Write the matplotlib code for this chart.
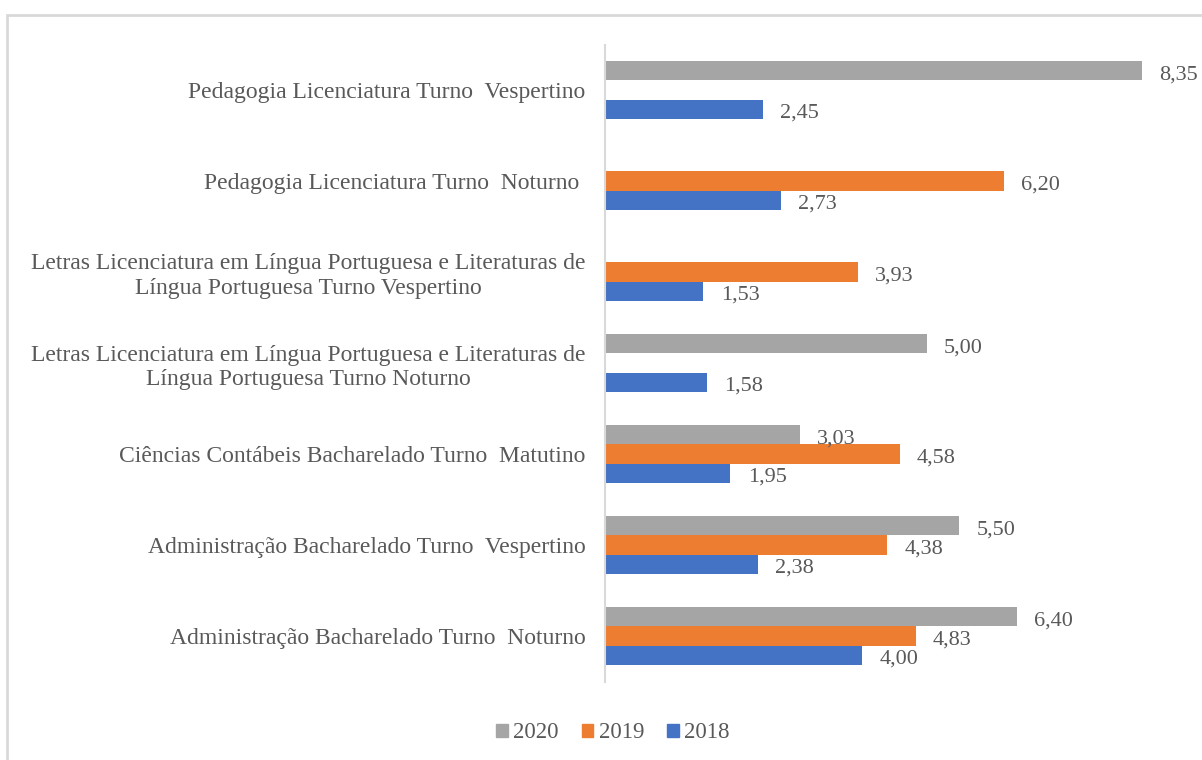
import matplotlib.pyplot as plt
import matplotlib.patches as mpatches
import numpy as np

# categories from bottom to top, as drawn
categories = [
    "Administração Bacharelado Turno  Noturno",
    "Administração Bacharelado Turno  Vespertino",
    "Ciências Contábeis Bacharelado Turno  Matutino",
    "Letras Licenciatura em Língua Portuguesa e Literaturas de\nLíngua Portuguesa Turno Noturno",
    "Letras Licenciatura em Língua Portuguesa e Literaturas de\nLíngua Portuguesa Turno Vespertino",
    "Pedagogia Licenciatura Turno  Noturno ",
    "Pedagogia Licenciatura Turno  Vespertino",
]
vals_2020 = [6.40, 5.50, 3.03, 5.00, np.nan, np.nan, 8.35]
vals_2019 = [4.83, 4.38, 4.58, np.nan, 3.93, 6.20, np.nan]
vals_2018 = [4.00, 2.38, 1.95, 1.58, 1.53, 2.73, 2.45]

series = [("2020", vals_2020, "#A5A5A5", 1),
          ("2019", vals_2019, "#ED7D31", 0),
          ("2018", vals_2018, "#4472C4", -1)]

plt.rcParams["font.family"] = ["Liberation Serif", "DejaVu Serif"]
text_color = "#595959"

W, H = 1202, 760
fig = plt.figure(figsize=(W / 100, H / 100), dpi=100)
ax = fig.add_axes([605 / W, 1 - 681.5 / H, (1184 - 605) / W, (681.5 - 44.5) / H])

# light frame around the chart area
fig.patches.append(mpatches.Rectangle((7 / W, -0.1), 1.2, 1 - 15 / H + 0.1,
                                      transform=fig.transFigure, fill=False,
                                      edgecolor="#D9D9D9", linewidth=2))

y = np.arange(len(categories))
h = 0.213
for name, vals, color, off in series:
    v = np.array(vals, dtype=float)
    ax.barh(y + off * h, v, height=h, color=color, label=name)
    for yi, vi in zip(y, v):
        if np.isnan(vi):
            continue
        ax.text(vi + 0.27, yi + off * h - 0.045, f"{vi:.2f}".replace(".", ","),
                va="center", ha="left", fontsize=16, color=text_color)

ax.set_xlim(0, 9)
ax.set_ylim(-0.5, len(categories) - 0.5)
ax.set_yticks(y)
ax.set_yticklabels(categories, fontsize=17, color=text_color,
                   multialignment="center", linespacing=1.2)
ax.tick_params(axis="y", length=0, pad=14)
ax.set_xticks([])
for s in ["top", "right", "bottom"]:
    ax.spines[s].set_visible(False)
ax.spines["left"].set_color("#D9D9D9")
ax.spines["left"].set_linewidth(1.5)

handles = [mpatches.Patch(color=c, label=n) for n, _, c, _ in series]
fig.legend(handles=handles, loc="center", bbox_to_anchor=(613 / W, 1 - 733 / H),
           ncol=3, frameon=False, fontsize=16.5, handlelength=0.5, handleheight=0.5,
           handletextpad=0.25, columnspacing=1.0, labelcolor=text_color)

fig.savefig("out.png", dpi=100)
